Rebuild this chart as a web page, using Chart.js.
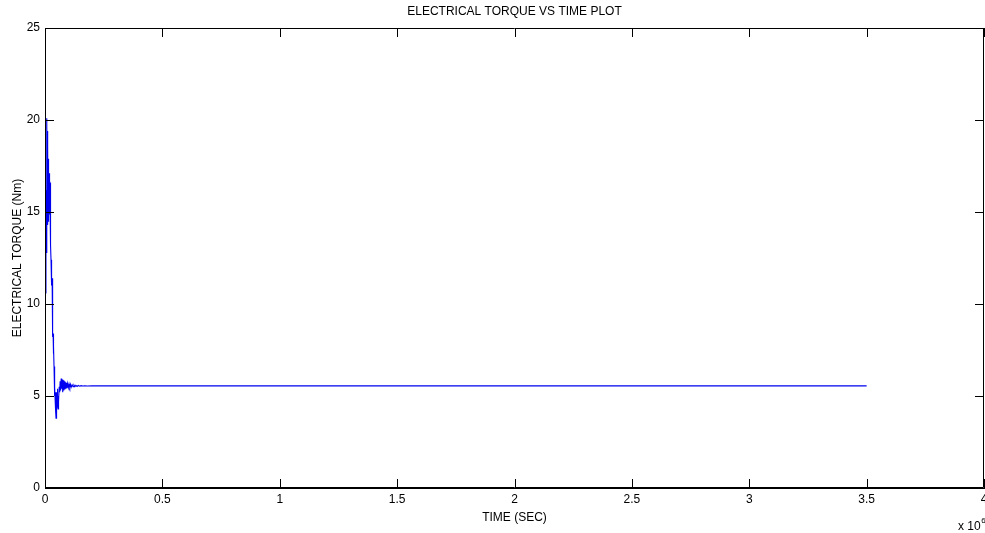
<!DOCTYPE html>
<html><head><meta charset="utf-8">
<script src="https://cdn.jsdelivr.net/npm/chart.js@4/dist/chart.umd.min.js"></script>
<style>html,body{margin:0;padding:0;background:#fff}#w{width:985px;height:533px;position:relative}</style>
</head><body><div id="w"><canvas id="c"></canvas></div>
<script>
// time in units of 10^6 (as the axis multiplier shows)
const timeE6 = [
 0.0020,0.0040,0.0055,0.0065,0.0075,0.0085,0.0095,0.0105,0.0113,0.0121,0.0129,0.0137,
 0.0145,0.0152,0.0159,0.0166,0.0173,0.0180,0.0187,0.0194,0.0201,0.0208,0.0215,0.0222,
 0.0229,0.0236,0.0243,0.0250,0.0256,0.0262,0.0268,0.0274,0.0280,0.0286,0.0292,0.0298,
 0.0304,0.0310,0.0320,0.0330,0.0338,0.0345,0.0352,0.0359,0.0366,0.0373,0.0385,0.0395,
 0.0405,0.0415,0.0425,0.0435,0.0445,0.0458,0.0470,0.0482,0.0492,0.0505,0.0515,0.0528,
 0.0540,0.0555,0.0570,0.0585,0.0605,0.0625,0.0645,0.0665,0.0690,0.0710,0.0735,0.0755,
 0.0780,0.0800,0.0825,0.0845,0.0870,0.0890,0.0915,0.0935,0.0965,0.0995,0.1025,0.1055,
 0.1085,0.1115,0.1155,0.1195,0.1235,0.1275,0.1315,0.1365,0.1415,0.1475,0.1535,0.1610,
 0.1700,0.1800,0.2000,0.2200,0.2500,0.3000,3.5000
];
const torqueNm = [
 10.6,16.2,12.8,19.2,14.4,20.1,14.6,19.4,14.3,18.6,14.5,17.9,
 14.6,17.3,14.8,17.2,14.9,17.1,15.0,17.0,15.2,16.8,15.4,16.6,
 15.5,16.3,14.8,13.2,12.4,11.8,12.3,11.5,12.1,11.2,11.7,11.0,
 11.4,10.6,9.8,8.8,8.2,8.4,7.5,8.1,7.3,7.7,6.6,5.8,
 6.1,5.0,5.5,4.7,5.2,4.2,3.8,4.6,4.0,5.2,4.4,5.4,
 4.5,4.3,5.0,4.7,5.5,5.2,5.8,5.3,5.95,5.4,5.9,5.2,
 5.85,5.3,5.8,5.35,5.75,5.4,5.7,5.42,5.68,5.45,5.65,5.47,
 5.63,5.48,5.61,5.5,5.59,5.51,5.58,5.52,5.57,5.53,5.56,5.54,
 5.56,5.54,5.56,5.55,5.55,5.55,5.55
];
const xTickValues = [0,0.5,1,1.5,2,2.5,3,3.5,4];
const yTickValues = [0,5,10,15,20,25];
const chartTitle = 'ELECTRICAL TORQUE VS TIME PLOT';
const xTitle = 'TIME (SEC)';
const yTitle = 'ELECTRICAL TORQUE (Nm)';
const xMultiplier = 'x 10';
const xExponent = '6';

const FONT = 'Arial, "Liberation Sans", sans-serif';

const framePlugin = {
  id: 'frame',
  afterDraw(chart) {
    const {ctx, chartArea: a, scales: {x, y}} = chart;
    const L = 9;
    ctx.save();
    ctx.strokeStyle = '#000';
    ctx.lineWidth = 1;
    ctx.beginPath();
    ctx.rect(Math.round(a.left) + 0.5, Math.round(a.top) + 0.5, Math.round(a.right - a.left) - 1, Math.round(a.bottom - a.top) - 1);
    xTickValues.forEach(v => {
      const px = Math.round(x.getPixelForValue(v)) + 0.5;
      ctx.moveTo(px, a.bottom); ctx.lineTo(px, a.bottom - L);
      ctx.moveTo(px, a.top); ctx.lineTo(px, a.top + L);
    });
    yTickValues.forEach(v => {
      const py = Math.round(y.getPixelForValue(v)) + 0.5;
      ctx.moveTo(a.left, py); ctx.lineTo(a.left + L, py);
      ctx.moveTo(a.right, py); ctx.lineTo(a.right - L, py);
    });
    ctx.stroke();
    ctx.fillStyle = '#000';
    // chart title, centred over the plot area
    ctx.font = '12px ' + FONT;
    ctx.textAlign = 'center';
    ctx.textBaseline = 'middle';
    ctx.fillText(chartTitle, (a.left + a.right) / 2, 12);
    // axis multiplier
    ctx.textBaseline = 'alphabetic';
    ctx.textAlign = 'left';
    ctx.fillText(xMultiplier, 958, 530);
    const w = ctx.measureText(xMultiplier).width;
    ctx.font = '8px ' + FONT;
    ctx.fillText(xExponent, 958 + w + 0.5, 523);
    ctx.restore();
  }
};

new Chart(document.getElementById('c'), {
  type: 'line',
  data: {
    datasets: [{
      data: timeE6.map((t, i) => ({x: t, y: torqueNm[i]})),
      borderColor: '#0000f0',
      borderWidth: 1.1,
      pointRadius: 0,
      tension: 0,
      fill: false
    }]
  },
  options: {
    responsive: true,
    maintainAspectRatio: false,
    animation: false,
    devicePixelRatio: 1,
    layout: {padding: {left: 0, right: 1, top: 28, bottom: 0}},
    plugins: {
      legend: {display: false},
      tooltip: {enabled: false},
      title: {display: false}
    },
    scales: {
      x: {
        type: 'linear', min: 0, max: 4,
        afterBuildTicks: s => { s.ticks = xTickValues.map(v => ({value: v})); },
        afterFit: s => { s.height = 45; s.paddingLeft = 0; s.paddingRight = 0; },
        ticks: {color: '#000', font: {family: FONT, size: 12}, padding: 4, maxRotation: 0, autoSkip: false,
                callback: v => String(v)},
        grid: {drawOnChartArea: false, drawTicks: false},
        border: {display: true, color: '#000', width: 1},
        title: {display: true, text: xTitle, color: '#000', font: {family: FONT, size: 12}, padding: {top: 0, bottom: 8}}
      },
      y: {
        type: 'linear', min: 0, max: 25,
        afterBuildTicks: s => { s.ticks = yTickValues.map(v => ({value: v})); },
        afterFit: s => { s.width = 45; s.paddingTop = 0; s.paddingBottom = 0; },
        ticks: {color: '#000', font: {family: FONT, size: 12}, padding: 5, callback: v => String(v)},
        grid: {drawOnChartArea: false, drawTicks: false},
        border: {display: true, color: '#000', width: 1},
        title: {display: true, text: yTitle, color: '#000', font: {family: FONT, size: 12}, padding: {top: 10, bottom: 0}}
      }
    }
  },
  plugins: [framePlugin]
});
</script>
</body></html>
